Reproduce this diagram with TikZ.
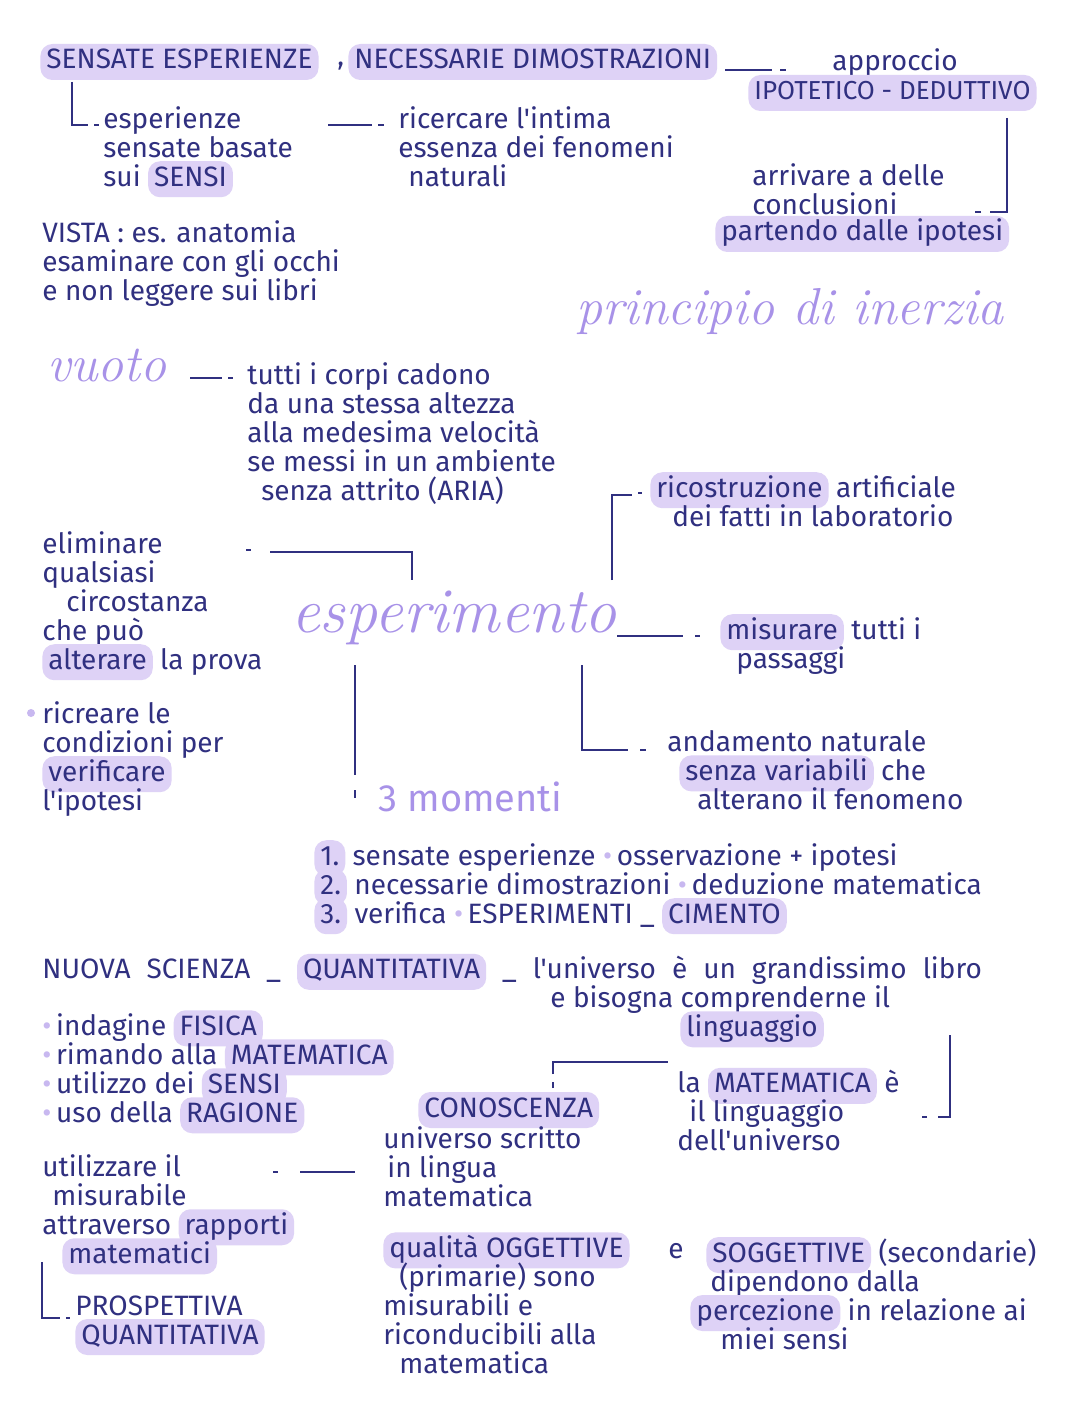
\documentclass[tikz,border=0pt]{standalone}
\usepackage{fontspec}
\newfontfamily\hand{Fira Sans}
\usetikzlibrary{positioning}
\definecolor{ink}{RGB}{48,48,128}
\definecolor{hlc}{RGB}{222,210,246}
\definecolor{lilac}{RGB}{168,146,232}
\newcommand\hl[1]{\rule{0pt}{9.5pt}\smash{\tikz[baseline=(hw.base)]\node[hlb](hw){#1};}}
\newcommand\bul{\textcolor{hlc!60!lilac}{\textbullet}\,}
\newcommand\widesp{\spaceskip=8pt plus 1pt\relax}

\begin{document}
\begin{tikzpicture}[x=0.5pt, y=-0.5pt,
  txt/.style={anchor=north west, align=left, inner sep=0pt, text=ink, font=\hand\fontsize{14}{14.5}\selectfont},
  hlb/.style={fill=hlc, rounded corners=6pt, inner xsep=3pt, inner ysep=2.5pt, text=ink, text height=10pt, text depth=3pt},
  big/.style={text=lilac, inner sep=0pt, font=\rmfamily\itshape\fontsize{26}{30}\selectfont},
  ln/.style={draw=ink, line width=1.3pt}]
  \fill[white] (0,0) rectangle (1080,1417);
  \useasboundingbox (0,0) rectangle (1080,1417);

  % top: metodo
  \node[txt, hlb, anchor=west] (sensate) at (40,62) {SENSATE ESPERIENZE};
  \node[txt, anchor=west] (virg) at (337,66) {,};
  \node[txt, hlb, anchor=west] (necess) at (348,62) {NECESSARIE DIMOSTRAZIONI};
  \node[txt] (approccio) at (832,48) {approccio};
  \node[txt, hlb, anchor=west, font=\hand\fontsize{13}{14.5}\selectfont] (ipotetico) at (748,93) {IPOTETICO - DEDUTTIVO};
  \node[txt] (esperienze) at (103,106) {esperienze\\sensate basate\\sui \hl{SENSI}};
  \node[txt] (ricercare) at (398,106) {ricercare l'intima\\essenza dei fenomeni\\\hspace*{5pt}naturali};
  \node[txt] (arrivare) at (752,163) {arrivare a delle\\conclusioni};
  \node[txt, hlb, anchor=west] (partendo) at (715,234) {partendo dalle ipotesi};
  \node[txt] (vista) at (42,220) {VISTA : es. anatomia\\esaminare con gli occhi\\e non leggere sui libri};

  \coordinate (c1) at (725,70);
  \coordinate (c2) at (72,82);
  \coordinate (c3) at (328,125);
  \coordinate (c4) at (1007,118);
  \draw[ln] (c1) -- ++(47,0) ++(8,0) -- ++(6,0);
  \draw[ln] (c2) |- ++(16,43) ++(6,0) -- ++(5,0);
  \draw[ln] (c3) -- ++(44,0) ++(6,0) -- ++(6,0);
  \draw[ln] (c4) |- ++(-17,94) ++(-9,0) -- ++(-6,0);

  % vuoto / inerzia
  \node[big] (inerzia) at (790,312) {principio di inerzia};
  \node[big] (vuoto) at (107,366) {vuoto};
  \node[txt] (tutti) at (247,362) {tutti i corpi cadono\\da una stessa altezza\\alla medesima velocità\\se messi in un ambiente\\\hspace*{7pt}senza attrito (ARIA)};
  \coordinate (c5) at (190,378);
  \draw[ln] (c5) -- ++(32,0) ++(6,0) -- ++(5,0);

  % esperimento
  \node[big, font=\rmfamily\itshape\fontsize{32}{38}\selectfont] (esper) at (454,618) {esperimento};
  \node[txt] (ricostr) at (650,475) {\hl{ricostruzione} artificiale\\\hspace*{11pt}dei fatti in laboratorio};
  \node[txt] (elimina) at (42,531) {eliminare\\qualsiasi\\\hspace*{12pt}circostanza\\che può\\\hl{alterare} la prova};
  \node[txt] (misurare) at (720,617) {\hl{misurare} tutti i\\\hspace*{8pt}passaggi};
  \node[txt, font=\hand\fontsize{19}{22}\selectfont, text=lilac, anchor=west] (momenti) at (378,797) {3 momenti};
  \node[txt] (andamento) at (667,730) {andamento naturale\\\hspace*{6pt}\hl{senza variabili} che\\\hspace*{15pt}alterano il fenomeno};
  \node[txt] (ricreare) at (42,701) {ricreare le\\condizioni per\\\hl{verificare}\\l'ipotesi};
  \fill[hlc!60!lilac] (31,713) circle (4);

  \coordinate (c6) at (612,580);
  \coordinate (c7) at (246,550);
  \coordinate (c8) at (617,636);
  \coordinate (c9) at (355,665);
  \coordinate (c10) at (582,665);
  \draw[ln] (c6) |- ++(20,-85) ++(6,-2) -- ++(4,0);
  \draw[ln] (c7) -- ++(5,0) ++(19,2) -| ++(142,28);
  \draw[ln] (c8) -- ++(66,0) ++(12,0) -- ++(5,0);
  \draw[ln] (c9) -- ++(0,110) ++(0,15) -- ++(0,8);
  \draw[ln] (c10) |- ++(46,85) ++(12,0) -- ++(6,0);

  % tre momenti
  \node[txt] (lista) at (314,843) {\hl{1.} sensate esperienze \bul osservazione + ipotesi\\\hl{2.} necessarie dimostrazioni \bul deduzione matematica\\\hl{3.} verifica \bul ESPERIMENTI \_ \hl{CIMENTO}};

  % nuova scienza
  \node[txt] (nuova) at (42,956) {\widesp NUOVA SCIENZA \_ \hl{QUANTITATIVA} \_ l'universo è un grandissimo libro};
  \node[txt] (bisogna) at (550,985) {e bisogna comprenderne il\\\hspace*{65pt}\hl{linguaggio}};
  \node[txt] (punti) at (42,1013) {\bul indagine \hl{FISICA}\\\bul rimando alla \hl{MATEMATICA}\\\bul utilizzo dei \hl{SENSI}\\\bul uso della \hl{RAGIONE}};
  \node[txt] (linguaggio) at (677,1070) {la \hl{MATEMATICA} è\\\hspace*{6pt}il linguaggio\\dell'universo};
  \node[txt, hlb, anchor=west] (conosc) at (418,1110) {CONOSCENZA};
  \node[txt] (scritto) at (383,1126) {universo scritto\\\hspace*{2pt}in lingua\\matematica};
  \node[txt] (utilizzare) at (42,1154) {utilizzare il\\\hspace*{5pt}misurabile\\attraverso \hl{rapporti}\\\hspace*{10pt}\hl{matematici}};
  \node[txt] (prosp) at (75,1295) {PROSPETTIVA\\\hl{QUANTITATIVA}};
  \node[txt] (qualita) at (383,1238) {\hl{qualità OGGETTIVE}\\\hspace*{8pt}(primarie) sono\\misurabili e\\riconducibili alla\\\hspace*{8pt}matematica};
  \node[txt] (e) at (668,1243) {e};
  \node[txt] (sogg) at (690,1238) {\hspace*{8pt}\hl{SOGGETTIVE} (secondarie)\\\hspace*{10pt}dipendono dalla\\\hl{percezione} in relazione ai\\\hspace*{15pt}miei sensi};

  \coordinate (c11) at (553,1088);
  \coordinate (c12) at (950,1035);
  \coordinate (c13) at (273,1172);
  \coordinate (c14) at (42,1262);
  \draw[ln] (c11) -- ++(0,-6) ++(0,-8) |- ++(115,-12);
  \draw[ln] (c12) |- ++(-12,82) ++(-11,0) -- ++(-5,0);
  \draw[ln] (c13) -- ++(5,0) ++(22,0) -- ++(55,0);
  \draw[ln] (c14) |- ++(18,56) ++(6,0) -- ++(4,0);
\end{tikzpicture}
\end{document}
